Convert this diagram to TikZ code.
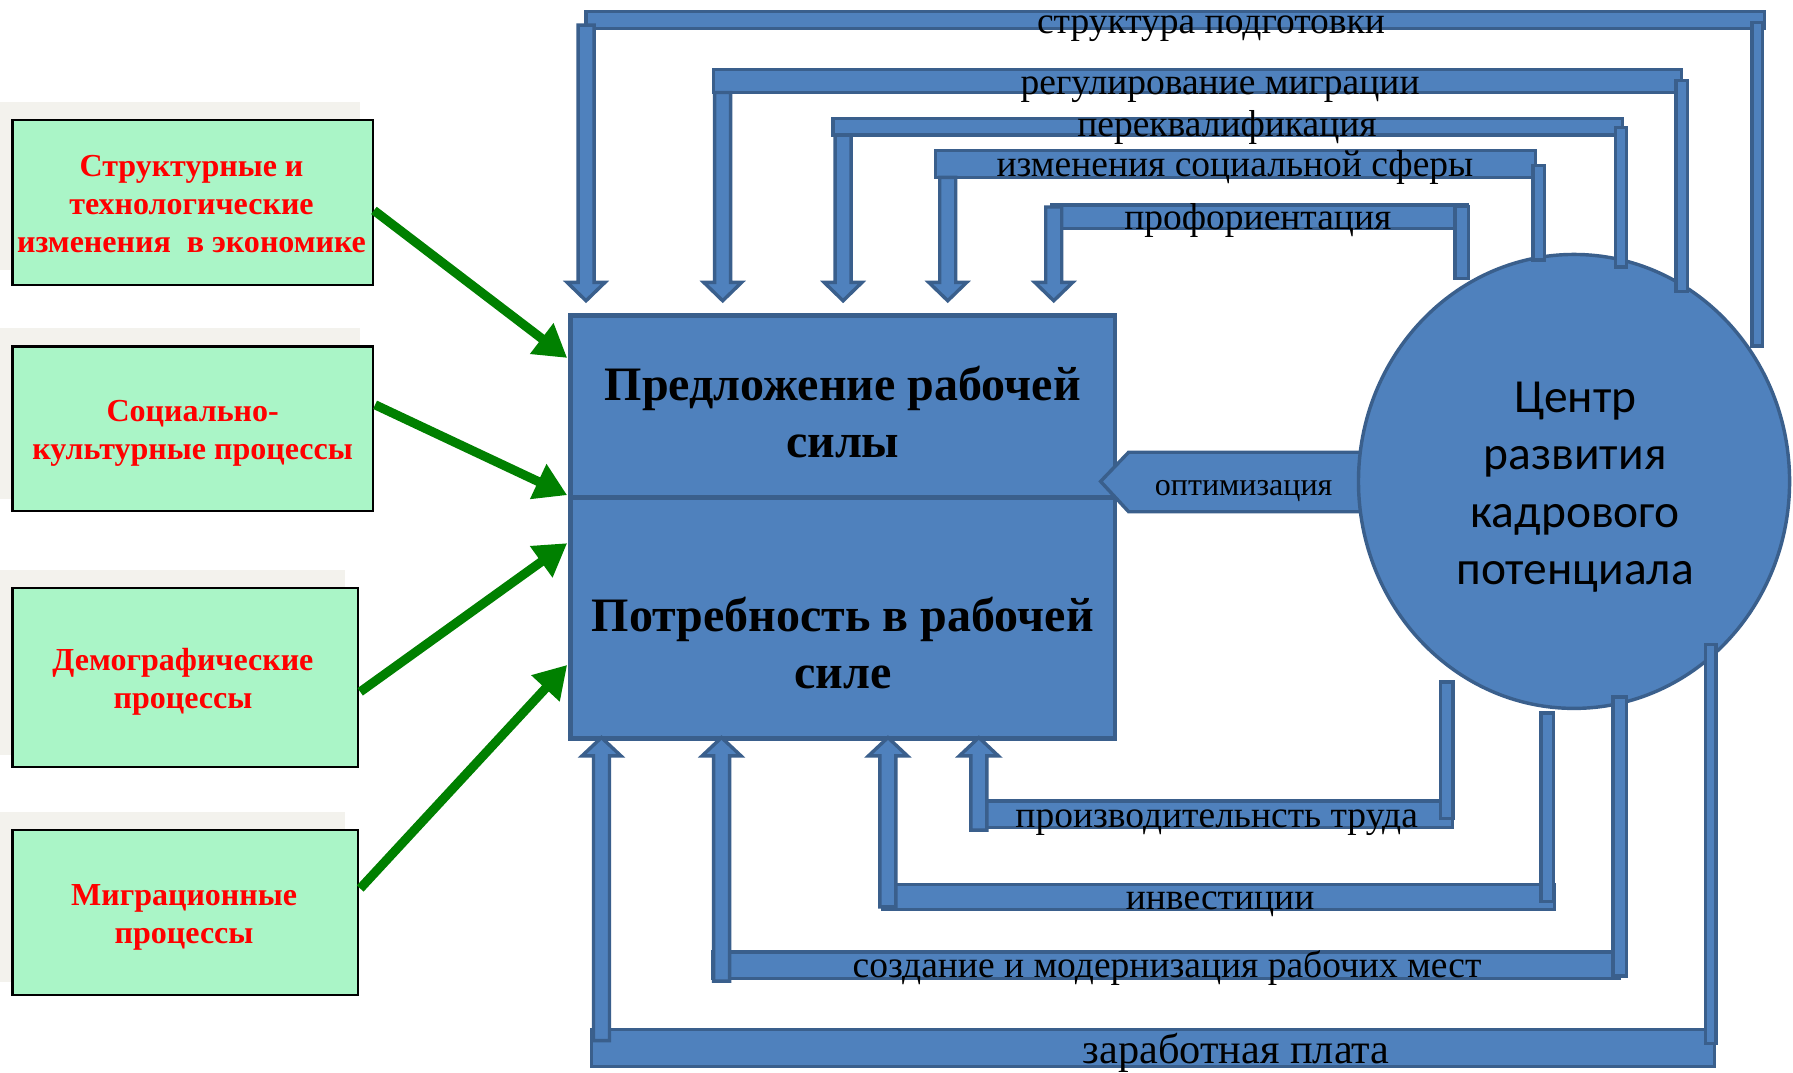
\documentclass[tikz,border=0pt]{standalone}
\usepackage{fontspec}
\setmainfont{Liberation Serif}
\newfontfamily\calfont{Carlito}
\usetikzlibrary{arrows.meta,calc,shapes.geometric}
\definecolor{barfill}{HTML}{4F81BD}
\definecolor{barline}{HTML}{3A5F8C}
\definecolor{mint}{RGB}{170,245,199}
\definecolor{paper}{RGB}{243,242,237}
\definecolor{arrowgreen}{RGB}{0,128,0}
\definecolor{factorred}{RGB}{255,0,0}
\newcommand\mkDownArrow[3]{\draw[bar] ({#1-7},#2) -- ({#1+7},#2) -- ({#1+7},{#3-16}) -- ({#1+16.5},{#3-16}) -- (#1,#3) -- ({#1-16.5},{#3-16}) -- ({#1-7},{#3-16}) -- cycle;}
\newcommand\mkUpArrow[3]{\draw[bar] ({#1-7},#2) -- ({#1+7},#2) -- ({#1+7},{#3+16}) -- ({#1+17},{#3+16}) -- (#1,#3) -- ({#1-17},{#3+16}) -- ({#1-7},{#3+16}) -- cycle;}
\begin{document}
\begin{tikzpicture}[x=1pt,y=-1pt,
  bar/.style={fill=barfill,draw=barline,line width=3pt,line join=miter},
  factor/.style={draw=black,line width=2pt,fill=mint,inner sep=0pt},
  factortext/.style={inner sep=0pt,align=center,text=factorred,font=\bfseries\fontsize{28}{33}\selectfont},
  infl/.style={draw=arrowgreen,line width=8pt,-{Triangle[length=28pt,width=32pt]}},
  flowlbl/.style={inner sep=0pt,anchor=base,font=\fontsize{32.8}{38}\selectfont},
  boxtext/.style={align=center,inner sep=0pt,font=\bfseries\fontsize{42}{50}\selectfont}]
\fill[white] (0,0) rectangle (1568,937.5);
\useasboundingbox (0,0) rectangle (1568,937.5);
% paper shadows behind factor boxes
\fill[paper] (0,89) rectangle (315,236);
\fill[paper] (0,287) rectangle (315,436);
\fill[paper] (0,498.5) rectangle (302,660);
\fill[paper] (0,710) rectangle (302,859);
% factor boxes
\node[factor,minimum width=315pt,minimum height=144pt] (f1) at (168.5,177) {};
\node[factor,minimum width=315pt,minimum height=144pt] (f2) at (168.5,375) {};
\node[factor,minimum width=302pt,minimum height=157pt] (f3) at (162,592.5) {};
\node[factor,minimum width=302pt,minimum height=144pt] (f4) at (162,798) {};
\node[factortext] (f1t) at ($(f1.center)+(-1,1.5)$) {Структурные и\\технологические\\изменения\ \ в экономике};
\node[factortext] (f2t) at ($(f2.center)+(0,4)$) {Социально-\\культурные процессы};
\node[factortext] (f3t) at ($(f3.center)+(-2,4)$) {Демографические\\процессы};
\node[factortext] (f4t) at ($(f4.center)+(-1,4)$) {Миграционные\\процессы};
% main box
\node[draw=barline,line width=4pt,fill=barfill,minimum width=476pt,minimum height=370pt,inner sep=0pt] (main) at (737,461) {};
\draw[barline,line width=5pt] ($(main.west)+(2,-26)$) -- ($(main.east)+(-2,-26)$);
\node[boxtext] (supply) at (737,360) {Предложение рабочей\\силы};
\node[boxtext] (demand) at (737,562) {Потребность в рабочей\\силе};
% optimisation arrow
\draw[bar] (962.5,421) -- (987,395.5) -- (1200,395.5) -- (1200,447.5) -- (987,447.5) -- cycle;
% centre
\node[ellipse,fill=barfill,draw=barline,line width=3pt,minimum width=377pt,minimum height=397pt,inner sep=0pt] (ctr) at (1376.5,421) {};
\node[inner sep=0pt,align=center,font=\calfont\fontsize{41.5}{50}\selectfont] (ctrt) at ($(ctr.center)+(1,5)$) {Центр\\развития\\кадрового\\потенциала};
\node[flowlbl,font=\fontsize{28}{32}\selectfont] (optl) at (1087.6,432.9) {оптимизация};
% green influence arrows
\draw[infl] ($(f1.east)+(0,7)$) -- ($(main.west)+(-1,-148)$);
\draw[infl] ($(f2.east)+(1,-21)$) -- ($(main.west)+(-1,-28)$);
\draw[infl] ($(f3.east)+(1,12.5)$) -- ($(main.west)+(-1,14)$);
\draw[infl] ($(f4.east)+(1,-21)$) -- ($(main.west)+(-1,120.5)$);
% top feedback arrows
\draw[bar] (512.5,10.2) rectangle (1543.2,24.7);
\draw[bar] (1532.3,19.5) rectangle (1541.5,302.5);
\mkDownArrow{512.5}{22}{263}
\draw[bar] (624,60.6) rectangle (1470.5,80.9);
\draw[bar] (1465.5,70.5) rectangle (1475.5,255);
\mkDownArrow{632}{80.9}{263}
\draw[bar] (728.5,103.5) rectangle (1419,118.1);
\draw[bar] (1413,111.5) rectangle (1422.5,233.5);
\mkDownArrow{737.3}{118.1}{263}
\draw[bar] (818,131.5) rectangle (1343,155.1);
\draw[bar] (1340.5,144.5) rectangle (1350.5,227.5);
\mkDownArrow{828.8}{155.1}{263}
\draw[bar] (919.5,179.3) rectangle (1283,199.6);
\draw[bar] (1272.5,180.5) rectangle (1284.2,243.5);
\mkDownArrow{921.5}{181}{263}
% bottom feedback arrows
\draw[bar] (848.5,700.5) rectangle (1270,723.5);
\draw[bar] (1259.5,596.5) rectangle (1270.5,716);
\mkUpArrow{856}{726}{645}
\draw[bar] (771.5,773.5) rectangle (1359.5,795.5);
\draw[bar] (1347.5,623.5) rectangle (1358.5,788.5);
\mkUpArrow{776.5}{793}{645}
\draw[bar] (623.5,832.5) rectangle (1416.5,855.5);
\draw[bar] (1410.5,609.5) rectangle (1422.5,853.5);
\mkUpArrow{631}{858}{645}
\draw[bar] (517.5,900.5) rectangle (1499.5,932.5);
\draw[bar] (1491.5,563.5) rectangle (1500.5,912.5);
\mkUpArrow{526}{910}{645}
% labels
\node[flowlbl] (t1) at (1059,29) {структура подготовки};
\node[flowlbl] (t2) at (1067,82.5) {регулирование миграции};
\node[flowlbl] (t3) at (1073,119.5) {переквалификация};
\node[flowlbl] (t4) at (1080,154.5) {изменения социальной сферы};
\node[flowlbl] (t5) at (1100,200.5) {профориентация};
\node[flowlbl] (b1) at (1064,723.8) {производительнсть труда};
\node[flowlbl] (b2) at (1067,795) {инвестиции};
\node[flowlbl] (b3) at (1020.6,855) {создание и модернизация рабочих мест};
\node[flowlbl,font=\fontsize{37}{40}\selectfont] (b4) at (1081,929.8) {заработная плата};
\end{tikzpicture}
\end{document}
